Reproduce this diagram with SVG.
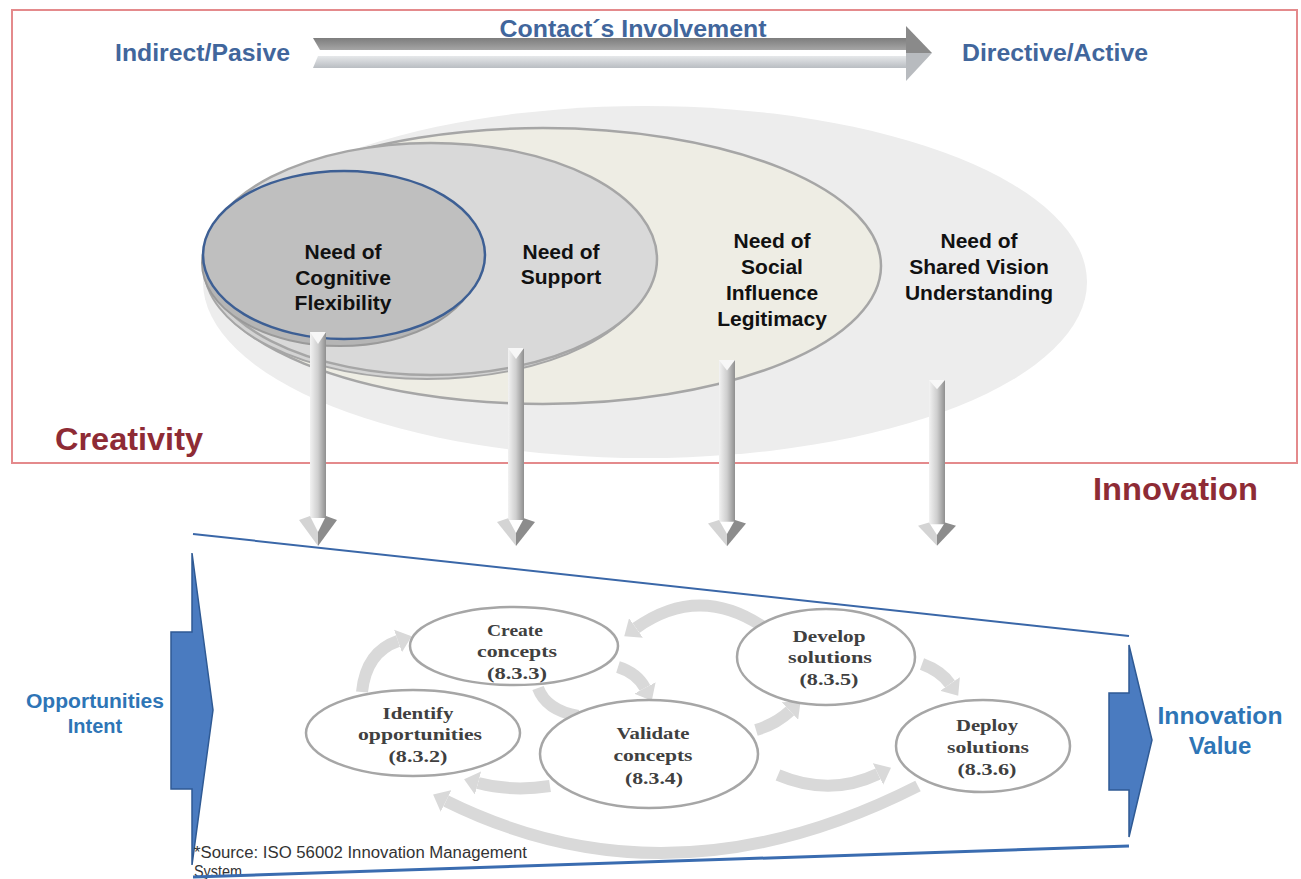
<svg xmlns="http://www.w3.org/2000/svg" width="1301" height="879" viewBox="0 0 1301 879">
<style>
.top{font-family:"Liberation Sans",Arial,sans-serif;font-weight:bold;fill:#41669c;font-size:24px}
.need{font-family:"Liberation Sans",Arial,sans-serif;font-weight:bold;fill:#111;font-size:21px;text-anchor:middle}
.red{font-family:"Liberation Sans",Arial,sans-serif;font-weight:bold;fill:#8e2b35;font-size:32px}
.blue{font-family:"Liberation Sans",Arial,sans-serif;font-weight:bold;fill:#2e75b6;text-anchor:middle}
.step{font-family:"Liberation Serif","Times New Roman",serif;font-weight:bold;fill:#404040;font-size:17px;text-anchor:middle}
.cyc{fill:#fff;stroke:#a6a6a6;stroke-width:2.5}
.band{fill:none;stroke:#d9d9d9;stroke-width:12}
.note{font-family:"Liberation Sans",Arial,sans-serif;fill:#333;font-size:16px}
</style>
<defs>
<linearGradient id="shaft" x1="0" y1="0" x2="1" y2="0">
<stop offset="0" stop-color="#f2f2f2"/><stop offset="0.5" stop-color="#cfcfcf"/><stop offset="1" stop-color="#8f8f8f"/>
</linearGradient>
<linearGradient id="bandDark" x1="0" y1="0" x2="0" y2="1">
<stop offset="0" stop-color="#7d7d7d"/><stop offset="1" stop-color="#a5a5a5"/>
</linearGradient>
<linearGradient id="bandLight" x1="0" y1="0" x2="0" y2="1">
<stop offset="0" stop-color="#e6e8ea"/><stop offset="1" stop-color="#b9bdc2"/>
</linearGradient>
<marker id="head" viewBox="0 0 1.2 2" refX="0" refY="1" markerWidth="1.2" markerHeight="2" markerUnits="strokeWidth" orient="auto">
<path d="M0,0 L1.2,1 L0,2 z" fill="#d9d9d9"/>
</marker>
<g id="varrow">
<polygon points="-8,0 8,0 8,186 -8,186" fill="url(#shaft)"/>
<polygon points="-8,0 8,0 0,12" fill="#f7f7f7"/>
<polygon points="-8,184 -19,188 0,214 0,200" fill="#d4d4d4"/>
<polygon points="8,184 19,188 0,214 0,200" fill="#8c8c8c"/>
</g>
</defs>
<rect width="1301" height="879" fill="#fff"/>

<g id="frame">
<rect x="12" y="10" width="1285" height="453" fill="none" stroke="#e48a8c" stroke-width="2"/>
</g>

<g id="involvement">
<polygon points="313,38 906,38 906,50 320,50" fill="url(#bandDark)"/>
<polygon points="318,56 906,56 906,68 313,68" fill="url(#bandLight)"/>
<polygon points="906,26 932,53 906,53" fill="#8a8a8a"/>
<polygon points="906,53 932,53 906,81" fill="#b8bbbf"/>
<text class="top" x="633" y="37" text-anchor="middle" textLength="267" lengthAdjust="spacingAndGlyphs">Contact´s Involvement</text>
<text class="top" x="115" y="61" textLength="175" lengthAdjust="spacingAndGlyphs">Indirect/Pasive</text>
<text class="top" x="962" y="61" textLength="186" lengthAdjust="spacingAndGlyphs">Directive/Active</text>
</g>

<g id="shared-vision">
<ellipse cx="645" cy="282" rx="442" ry="176" fill="#ededed"/>
<text class="need" x="979" y="248">Need of</text>
<text class="need" x="979" y="274">Shared Vision</text>
<text class="need" x="979" y="300">Understanding</text>
</g>
<g id="social-influence">
<ellipse cx="543" cy="266" rx="338" ry="138" fill="#eeede4" stroke="#a6a6a6" stroke-width="2.5"/>
<text class="need" x="772" y="248">Need of</text>
<text class="need" x="772" y="274">Social</text>
<text class="need" x="772" y="300">Influence</text>
<text class="need" x="772" y="326">Legitimacy</text>
</g>
<g id="support">
<ellipse cx="427" cy="267" rx="223" ry="112" fill="#d3d3d3" stroke="#a6a6a6" stroke-width="2"/>
<ellipse cx="431" cy="259" rx="226" ry="116" fill="#d9d9d9" stroke="#a6a6a6" stroke-width="2.5"/>
<text class="need" x="561" y="259">Need of</text>
<text class="need" x="561" y="284">Support</text>
</g>
<g id="cognitive">
<ellipse cx="340" cy="263" rx="138" ry="83" fill="#b5b5b5" stroke="#9a9a9a" stroke-width="2"/>
<ellipse cx="344" cy="255" rx="141" ry="84" fill="#bfbfbf" stroke="#3d5f94" stroke-width="2.5"/>
<text class="need" x="343" y="259">Need of</text>
<text class="need" x="343" y="285">Cognitive</text>
<text class="need" x="343" y="310">Flexibility</text>
</g>

<g id="labels-red">
<text class="red" x="55" y="450" textLength="148" lengthAdjust="spacingAndGlyphs">Creativity</text>
<text class="red" x="1093" y="500" textLength="165" lengthAdjust="spacingAndGlyphs">Innovation</text>
</g>

<g id="down-arrows">
<use href="#varrow" transform="translate(318,332) scale(1,1.0)"/>
<use href="#varrow" transform="translate(516,348) scale(1,0.925)"/>
<use href="#varrow" transform="translate(727,360) scale(1,0.87)"/>
<use href="#varrow" transform="translate(937,380) scale(1,0.775)"/>
</g>

<g id="funnel">
<line x1="193" y1="534" x2="1129" y2="636" stroke="#3a67a8" stroke-width="2"/>
</g>

<g id="opportunities-intent">
<polygon points="192,553 213,710 192,865 192,789 171,789 171,632 192,632" fill="#4a7bc0" stroke="#2f5a94" stroke-width="1.5"/>
<text class="blue" x="95" y="708" font-size="20" textLength="138" lengthAdjust="spacingAndGlyphs">Opportunities</text>
<text class="blue" x="95" y="733" font-size="20">Intent</text>
</g>
<g id="innovation-value">
<polygon points="1129,645 1152,740 1129,837 1129,790 1109,790 1109,693 1129,693" fill="#4a7bc0" stroke="#2f5a94" stroke-width="1.5"/>
<text class="blue" x="1220" y="724" font-size="24" textLength="125" lengthAdjust="spacingAndGlyphs">Innovation</text>
<text class="blue" x="1220" y="754" font-size="24">Value</text>
</g>

<g id="connectors">
<path class="band" d="M362,692 Q366,652 398,641" marker-end="url(#head)"/>
<path class="band" d="M618,667 Q637,673 645,688" marker-end="url(#head)"/>
<path class="band" d="M538,688 Q546,710 578,716"/>
<path class="band" d="M550,786 Q512,792 478,783" marker-end="url(#head)"/>
<path class="band" d="M756,730 Q776,724 790,711" marker-end="url(#head)"/>
<path class="band" d="M762,626 Q698,584 636,628" marker-end="url(#head)"/>
<path class="band" d="M922,664 Q941,671 950,684" marker-end="url(#head)"/>
<path class="band" d="M778,775 Q830,797 878,774" marker-end="url(#head)"/>
<path class="band" d="M918,786 Q670,912 446,801" stroke-width="13" marker-end="url(#head)"/>
</g>

<g id="identify">
<ellipse class="cyc" cx="413" cy="733" rx="107" ry="43"/>
<text class="step" x="418" y="719" textLength="71" lengthAdjust="spacingAndGlyphs">Identify</text>
<text class="step" x="420" y="740" textLength="124" lengthAdjust="spacingAndGlyphs">opportunities</text>
<text class="step" x="418" y="762" textLength="59" lengthAdjust="spacingAndGlyphs">(8.3.2)</text>
</g>
<g id="create">
<ellipse class="cyc" cx="514" cy="646" rx="104" ry="39"/>
<text class="step" x="515" y="636" textLength="56" lengthAdjust="spacingAndGlyphs">Create</text>
<text class="step" x="517" y="657" textLength="80" lengthAdjust="spacingAndGlyphs">concepts</text>
<text class="step" x="517" y="679" textLength="60" lengthAdjust="spacingAndGlyphs">(8.3.3)</text>
</g>
<g id="validate">
<ellipse class="cyc" cx="649" cy="754" rx="109" ry="54"/>
<text class="step" x="653" y="739" textLength="73" lengthAdjust="spacingAndGlyphs">Validate</text>
<text class="step" x="653" y="761" textLength="79" lengthAdjust="spacingAndGlyphs">concepts</text>
<text class="step" x="654" y="784" textLength="58" lengthAdjust="spacingAndGlyphs">(8.3.4)</text>
</g>
<g id="develop">
<ellipse class="cyc" cx="826" cy="657" rx="89" ry="48"/>
<text class="step" x="829" y="642" textLength="73" lengthAdjust="spacingAndGlyphs">Develop</text>
<text class="step" x="830" y="663" textLength="84" lengthAdjust="spacingAndGlyphs">solutions</text>
<text class="step" x="829" y="685" textLength="59" lengthAdjust="spacingAndGlyphs">(8.3.5)</text>
</g>
<g id="deploy">
<ellipse class="cyc" cx="983" cy="746" rx="87" ry="46"/>
<text class="step" x="987" y="731" textLength="62" lengthAdjust="spacingAndGlyphs">Deploy</text>
<text class="step" x="988" y="753" textLength="82" lengthAdjust="spacingAndGlyphs">solutions</text>
<text class="step" x="987" y="775" textLength="59" lengthAdjust="spacingAndGlyphs">(8.3.6)</text>
</g>

<g id="source">
<text class="note" x="194" y="858" textLength="333" lengthAdjust="spacingAndGlyphs">*Source: ISO 56002 Innovation Management</text>
<text class="note" x="194" y="877" textLength="48" lengthAdjust="spacingAndGlyphs">System</text>
</g>
<g id="funnel-bottom">
<line x1="193" y1="877" x2="1129" y2="846" stroke="#3a6cb0" stroke-width="3"/>
</g>
</svg>
